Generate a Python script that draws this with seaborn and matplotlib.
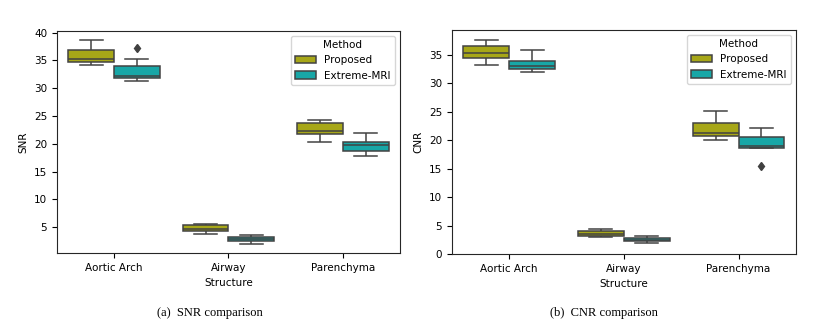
import pandas as pd
import matplotlib.pyplot as plt
import seaborn as sns

# valeurs (9 echantillons par groupe)
structures = ['Aortic Arch', 'Airway', 'Parenchyma']
methods = ['Proposed', 'Extreme-MRI']

snr_proposed = {
    'Aortic Arch': [34.1, 34.5, 34.7, 35.0, 35.3, 36.2, 36.9, 37.8, 38.7],
    'Airway': [3.8, 4.1, 4.3, 4.5, 4.7, 5.0, 5.3, 5.5, 5.6],
    'Parenchyma': [20.4, 21.4, 21.8, 22.0, 22.3, 23.0, 23.7, 24.0, 24.3],
}
snr_extreme = {
    'Aortic Arch': [31.3, 31.6, 31.8, 32.0, 32.2, 33.2, 33.9, 35.3, 37.3],
    'Airway': [2.0, 2.3, 2.45, 2.6, 2.8, 3.0, 3.2, 3.4, 3.5],
    'Parenchyma': [17.8, 18.4, 18.7, 19.2, 19.7, 20.0, 20.4, 21.0, 21.9],
}
cnr_proposed = {
    'Aortic Arch': [33.3, 34.0, 34.5, 35.0, 35.4, 36.0, 36.6, 37.0, 37.6],
    'Airway': [2.9, 3.0, 3.1, 3.3, 3.5, 3.8, 4.0, 4.2, 4.45],
    'Parenchyma': [20.1, 20.5, 20.8, 21.0, 21.3, 22.2, 23.0, 24.0, 25.1],
}
cnr_extreme = {
    'Aortic Arch': [32.0, 32.3, 32.6, 32.8, 33.0, 33.5, 34.0, 35.0, 35.8],
    'Airway': [1.9, 2.0, 2.2, 2.35, 2.5, 2.6, 2.8, 3.0, 3.2],
    'Parenchyma': [15.5, 18.7, 18.7, 18.8, 18.9, 19.8, 20.5, 21.2, 22.1],
}


def make_df(prop, ext, col):
    rows = []
    for s in structures:
        for v in prop[s]:
            rows.append((s, 'Proposed', v))
        for v in ext[s]:
            rows.append((s, 'Extreme-MRI', v))
    return pd.DataFrame(rows, columns=['Structure', 'Method', col])


snr_df = make_df(snr_proposed, snr_extreme, 'SNR')
cnr_df = make_df(cnr_proposed, cnr_extreme, 'CNR')

plt.rcParams['font.family'] = 'DejaVu Sans'
plt.rcParams['font.size'] = 7.5

fig = plt.figure(figsize=(8.23, 3.32), dpi=100)
ax1 = fig.add_axes([0.069, 0.238, 0.417, 0.669])
ax2 = fig.add_axes([0.549, 0.235, 0.418, 0.675])

flier = dict(marker='d', markerfacecolor='0.25', markeredgecolor='0.25', markersize=4.5)

for ax, df, col in [(ax1, snr_df, 'SNR'), (ax2, cnr_df, 'CNR')]:
    sns.boxplot(data=df, x='Structure', y=col, hue='Method', hue_order=methods,
                palette=['y', 'c'], linecolor='0.26', linewidth=1.1,
                flierprops=flier, ax=ax)
    ax.legend(title='Method', loc='upper right', fontsize=7.5, title_fontsize=7.5)
    ax.set_xlabel('Structure', fontsize=7.5)
    ax.set_ylabel(col, fontsize=7.5)
    for s in ax.spines.values():
        s.set_visible(True)
        s.set_color('0.15')

ax1.set_ylim(0.35, 40.3)
ax1.set_yticks([5, 10, 15, 20, 25, 30, 35, 40])
ax2.set_ylim(0, 39.4)
ax2.set_yticks([0, 5, 10, 15, 20, 25, 30, 35])

fig.text(0.255, 0.047, '(a)  SNR comparison', family='Liberation Serif', fontsize=9, ha='center')
fig.text(0.734, 0.047, '(b)  CNR comparison', family='Liberation Serif', fontsize=9, ha='center')

fig.savefig('out.png', dpi=100)
